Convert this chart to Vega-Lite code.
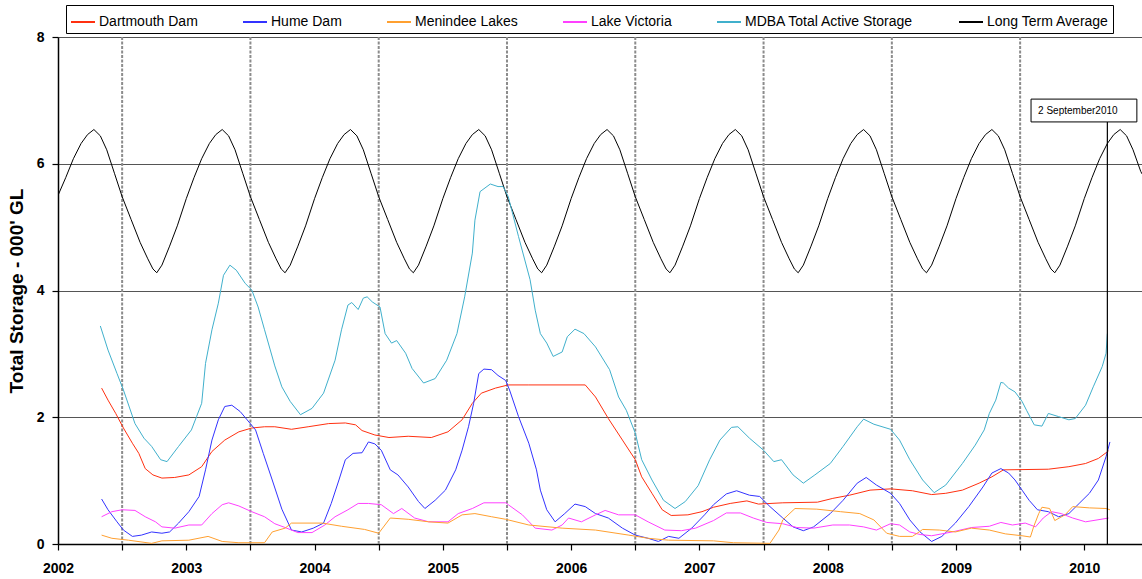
{
 "$schema": "https://vega.github.io/schema/vega-lite/v6.json",
 "width": 1084,
 "height": 507,
 "autosize": {"type": "none"},
 "padding": {"left": 58, "top": 37, "right": 0, "bottom": 35},
 "background": "white",
 "config": {"view": {"stroke": null}, "font": "Liberation Sans"},
 "datasets": {
  "mid": [{"m": 2002.5}, {"m": 2003.5}, {"m": 2004.5}, {"m": 2005.5}, {"m": 2006.5}, {"m": 2007.5}, {"m": 2008.5}, {"m": 2009.5}],
  "series": [
   {"s":"Long Term Average","t":2002.00,"v":5.50},{"s":"Long Term Average","t":2002.06,"v":5.78},{"s":"Long Term Average","t":2002.12,"v":6.08},{"s":"Long Term Average","t":2002.18,"v":6.32},{"s":"Long Term Average","t":2002.23,"v":6.46},{"s":"Long Term Average","t":2002.28,"v":6.54},{"s":"Long Term Average","t":2002.33,"v":6.44},{"s":"Long Term Average","t":2002.38,"v":6.22},{"s":"Long Term Average","t":2002.44,"v":5.85},{"s":"Long Term Average","t":2002.50,"v":5.48},{"s":"Long Term Average","t":2002.57,"v":5.12},{"s":"Long Term Average","t":2002.64,"v":4.76},{"s":"Long Term Average","t":2002.70,"v":4.50},{"s":"Long Term Average","t":2002.74,"v":4.34},{"s":"Long Term Average","t":2002.77,"v":4.28},{"s":"Long Term Average","t":2002.81,"v":4.40},{"s":"Long Term Average","t":2002.87,"v":4.70},{"s":"Long Term Average","t":2002.93,"v":5.02},
   {"s":"Long Term Average","t":2003.00,"v":5.45},{"s":"Long Term Average","t":2003.06,"v":5.78},{"s":"Long Term Average","t":2003.12,"v":6.08},{"s":"Long Term Average","t":2003.18,"v":6.32},{"s":"Long Term Average","t":2003.23,"v":6.46},{"s":"Long Term Average","t":2003.28,"v":6.54},{"s":"Long Term Average","t":2003.33,"v":6.44},{"s":"Long Term Average","t":2003.38,"v":6.22},{"s":"Long Term Average","t":2003.44,"v":5.85},{"s":"Long Term Average","t":2003.50,"v":5.48},{"s":"Long Term Average","t":2003.57,"v":5.12},{"s":"Long Term Average","t":2003.64,"v":4.76},{"s":"Long Term Average","t":2003.70,"v":4.50},{"s":"Long Term Average","t":2003.74,"v":4.34},{"s":"Long Term Average","t":2003.77,"v":4.28},{"s":"Long Term Average","t":2003.81,"v":4.40},{"s":"Long Term Average","t":2003.87,"v":4.70},{"s":"Long Term Average","t":2003.93,"v":5.02},
   {"s":"Long Term Average","t":2004.00,"v":5.45},{"s":"Long Term Average","t":2004.06,"v":5.78},{"s":"Long Term Average","t":2004.12,"v":6.08},{"s":"Long Term Average","t":2004.18,"v":6.32},{"s":"Long Term Average","t":2004.23,"v":6.46},{"s":"Long Term Average","t":2004.28,"v":6.54},{"s":"Long Term Average","t":2004.33,"v":6.44},{"s":"Long Term Average","t":2004.38,"v":6.22},{"s":"Long Term Average","t":2004.44,"v":5.85},{"s":"Long Term Average","t":2004.50,"v":5.48},{"s":"Long Term Average","t":2004.57,"v":5.12},{"s":"Long Term Average","t":2004.64,"v":4.76},{"s":"Long Term Average","t":2004.70,"v":4.50},{"s":"Long Term Average","t":2004.74,"v":4.34},{"s":"Long Term Average","t":2004.77,"v":4.28},{"s":"Long Term Average","t":2004.81,"v":4.40},{"s":"Long Term Average","t":2004.87,"v":4.70},{"s":"Long Term Average","t":2004.93,"v":5.02},
   {"s":"Long Term Average","t":2005.00,"v":5.45},{"s":"Long Term Average","t":2005.06,"v":5.78},{"s":"Long Term Average","t":2005.12,"v":6.08},{"s":"Long Term Average","t":2005.18,"v":6.32},{"s":"Long Term Average","t":2005.23,"v":6.46},{"s":"Long Term Average","t":2005.28,"v":6.54},{"s":"Long Term Average","t":2005.33,"v":6.44},{"s":"Long Term Average","t":2005.38,"v":6.22},{"s":"Long Term Average","t":2005.44,"v":5.85},{"s":"Long Term Average","t":2005.50,"v":5.48},{"s":"Long Term Average","t":2005.57,"v":5.12},{"s":"Long Term Average","t":2005.64,"v":4.76},{"s":"Long Term Average","t":2005.70,"v":4.50},{"s":"Long Term Average","t":2005.74,"v":4.34},{"s":"Long Term Average","t":2005.77,"v":4.28},{"s":"Long Term Average","t":2005.81,"v":4.40},{"s":"Long Term Average","t":2005.87,"v":4.70},{"s":"Long Term Average","t":2005.93,"v":5.02},
   {"s":"Long Term Average","t":2006.00,"v":5.45},{"s":"Long Term Average","t":2006.06,"v":5.78},{"s":"Long Term Average","t":2006.12,"v":6.08},{"s":"Long Term Average","t":2006.18,"v":6.32},{"s":"Long Term Average","t":2006.23,"v":6.46},{"s":"Long Term Average","t":2006.28,"v":6.54},{"s":"Long Term Average","t":2006.33,"v":6.44},{"s":"Long Term Average","t":2006.38,"v":6.22},{"s":"Long Term Average","t":2006.44,"v":5.85},{"s":"Long Term Average","t":2006.50,"v":5.48},{"s":"Long Term Average","t":2006.57,"v":5.12},{"s":"Long Term Average","t":2006.64,"v":4.76},{"s":"Long Term Average","t":2006.70,"v":4.50},{"s":"Long Term Average","t":2006.74,"v":4.34},{"s":"Long Term Average","t":2006.77,"v":4.28},{"s":"Long Term Average","t":2006.81,"v":4.40},{"s":"Long Term Average","t":2006.87,"v":4.70},{"s":"Long Term Average","t":2006.93,"v":5.02},
   {"s":"Long Term Average","t":2007.00,"v":5.45},{"s":"Long Term Average","t":2007.06,"v":5.78},{"s":"Long Term Average","t":2007.12,"v":6.08},{"s":"Long Term Average","t":2007.18,"v":6.32},{"s":"Long Term Average","t":2007.23,"v":6.46},{"s":"Long Term Average","t":2007.28,"v":6.54},{"s":"Long Term Average","t":2007.33,"v":6.44},{"s":"Long Term Average","t":2007.38,"v":6.22},{"s":"Long Term Average","t":2007.44,"v":5.85},{"s":"Long Term Average","t":2007.50,"v":5.48},{"s":"Long Term Average","t":2007.57,"v":5.12},{"s":"Long Term Average","t":2007.64,"v":4.76},{"s":"Long Term Average","t":2007.70,"v":4.50},{"s":"Long Term Average","t":2007.74,"v":4.34},{"s":"Long Term Average","t":2007.77,"v":4.28},{"s":"Long Term Average","t":2007.81,"v":4.40},{"s":"Long Term Average","t":2007.87,"v":4.70},{"s":"Long Term Average","t":2007.93,"v":5.02},
   {"s":"Long Term Average","t":2008.00,"v":5.45},{"s":"Long Term Average","t":2008.06,"v":5.78},{"s":"Long Term Average","t":2008.12,"v":6.08},{"s":"Long Term Average","t":2008.18,"v":6.32},{"s":"Long Term Average","t":2008.23,"v":6.46},{"s":"Long Term Average","t":2008.28,"v":6.54},{"s":"Long Term Average","t":2008.33,"v":6.44},{"s":"Long Term Average","t":2008.38,"v":6.22},{"s":"Long Term Average","t":2008.44,"v":5.85},{"s":"Long Term Average","t":2008.50,"v":5.48},{"s":"Long Term Average","t":2008.57,"v":5.12},{"s":"Long Term Average","t":2008.64,"v":4.76},{"s":"Long Term Average","t":2008.70,"v":4.50},{"s":"Long Term Average","t":2008.74,"v":4.34},{"s":"Long Term Average","t":2008.77,"v":4.28},{"s":"Long Term Average","t":2008.81,"v":4.40},{"s":"Long Term Average","t":2008.87,"v":4.70},{"s":"Long Term Average","t":2008.93,"v":5.02},
   {"s":"Long Term Average","t":2009.00,"v":5.45},{"s":"Long Term Average","t":2009.06,"v":5.78},{"s":"Long Term Average","t":2009.12,"v":6.08},{"s":"Long Term Average","t":2009.18,"v":6.32},{"s":"Long Term Average","t":2009.23,"v":6.46},{"s":"Long Term Average","t":2009.28,"v":6.54},{"s":"Long Term Average","t":2009.33,"v":6.44},{"s":"Long Term Average","t":2009.38,"v":6.22},{"s":"Long Term Average","t":2009.44,"v":5.85},{"s":"Long Term Average","t":2009.50,"v":5.48},{"s":"Long Term Average","t":2009.57,"v":5.12},{"s":"Long Term Average","t":2009.64,"v":4.76},{"s":"Long Term Average","t":2009.70,"v":4.50},{"s":"Long Term Average","t":2009.74,"v":4.34},{"s":"Long Term Average","t":2009.77,"v":4.28},{"s":"Long Term Average","t":2009.81,"v":4.40},{"s":"Long Term Average","t":2009.87,"v":4.70},{"s":"Long Term Average","t":2009.93,"v":5.02},
   {"s":"Long Term Average","t":2010.00,"v":5.45},{"s":"Long Term Average","t":2010.06,"v":5.78},{"s":"Long Term Average","t":2010.12,"v":6.08},{"s":"Long Term Average","t":2010.18,"v":6.32},{"s":"Long Term Average","t":2010.23,"v":6.46},{"s":"Long Term Average","t":2010.28,"v":6.54},{"s":"Long Term Average","t":2010.33,"v":6.44},{"s":"Long Term Average","t":2010.38,"v":6.22},{"s":"Long Term Average","t":2010.44,"v":5.88},{"s":"Long Term Average","t":2010.45,"v":5.84},

   {"s":"MDBA Total Active Storage","t":2002.33,"v":3.44},{"s":"MDBA Total Active Storage","t":2002.39,"v":3.06},{"s":"MDBA Total Active Storage","t":2002.46,"v":2.69},{"s":"MDBA Total Active Storage","t":2002.51,"v":2.43},{"s":"MDBA Total Active Storage","t":2002.60,"v":1.90},{"s":"MDBA Total Active Storage","t":2002.67,"v":1.67},{"s":"MDBA Total Active Storage","t":2002.73,"v":1.54},{"s":"MDBA Total Active Storage","t":2002.80,"v":1.33},{"s":"MDBA Total Active Storage","t":2002.85,"v":1.30},{"s":"MDBA Total Active Storage","t":2002.94,"v":1.54},{"s":"MDBA Total Active Storage","t":2003.04,"v":1.80},{"s":"MDBA Total Active Storage","t":2003.08,"v":2.01},{"s":"MDBA Total Active Storage","t":2003.12,"v":2.22},{"s":"MDBA Total Active Storage","t":2003.15,"v":2.85},{"s":"MDBA Total Active Storage","t":2003.20,"v":3.38},{"s":"MDBA Total Active Storage","t":2003.25,"v":3.80},{"s":"MDBA Total Active Storage","t":2003.29,"v":4.24},{"s":"MDBA Total Active Storage","t":2003.34,"v":4.40},{"s":"MDBA Total Active Storage","t":2003.39,"v":4.32},{"s":"MDBA Total Active Storage","t":2003.46,"v":4.11},{"s":"MDBA Total Active Storage","t":2003.51,"v":4.01},{"s":"MDBA Total Active Storage","t":2003.56,"v":3.74},{"s":"MDBA Total Active Storage","t":2003.61,"v":3.38},{"s":"MDBA Total Active Storage","t":2003.69,"v":2.81},{"s":"MDBA Total Active Storage","t":2003.745,"v":2.48},{"s":"MDBA Total Active Storage","t":2003.81,"v":2.25},{"s":"MDBA Total Active Storage","t":2003.89,"v":2.04},{"s":"MDBA Total Active Storage","t":2003.98,"v":2.14},{"s":"MDBA Total Active Storage","t":2004.07,"v":2.38},{"s":"MDBA Total Active Storage","t":2004.16,"v":2.90},{"s":"MDBA Total Active Storage","t":2004.21,"v":3.38},{"s":"MDBA Total Active Storage","t":2004.26,"v":3.77},{"s":"MDBA Total Active Storage","t":2004.29,"v":3.81},{"s":"MDBA Total Active Storage","t":2004.34,"v":3.70},{"s":"MDBA Total Active Storage","t":2004.38,"v":3.88},{"s":"MDBA Total Active Storage","t":2004.41,"v":3.90},{"s":"MDBA Total Active Storage","t":2004.45,"v":3.82},{"s":"MDBA Total Active Storage","t":2004.51,"v":3.74},{"s":"MDBA Total Active Storage","t":2004.55,"v":3.32},{"s":"MDBA Total Active Storage","t":2004.60,"v":3.17},{"s":"MDBA Total Active Storage","t":2004.64,"v":3.21},{"s":"MDBA Total Active Storage","t":2004.71,"v":3.01},{"s":"MDBA Total Active Storage","t":2004.76,"v":2.77},{"s":"MDBA Total Active Storage","t":2004.85,"v":2.54},{"s":"MDBA Total Active Storage","t":2004.94,"v":2.61},{"s":"MDBA Total Active Storage","t":2005.03,"v":2.90},{"s":"MDBA Total Active Storage","t":2005.11,"v":3.32},{"s":"MDBA Total Active Storage","t":2005.17,"v":3.90},{"s":"MDBA Total Active Storage","t":2005.23,"v":4.59},{"s":"MDBA Total Active Storage","t":2005.25,"v":5.11},{"s":"MDBA Total Active Storage","t":2005.29,"v":5.56},{"s":"MDBA Total Active Storage","t":2005.37,"v":5.68},{"s":"MDBA Total Active Storage","t":2005.43,"v":5.64},{"s":"MDBA Total Active Storage","t":2005.47,"v":5.64},{"s":"MDBA Total Active Storage","t":2005.51,"v":5.48},{"s":"MDBA Total Active Storage","t":2005.59,"v":4.85},{"s":"MDBA Total Active Storage","t":2005.68,"v":4.17},{"s":"MDBA Total Active Storage","t":2005.72,"v":3.69},{"s":"MDBA Total Active Storage","t":2005.76,"v":3.32},{"s":"MDBA Total Active Storage","t":2005.81,"v":3.17},{"s":"MDBA Total Active Storage","t":2005.86,"v":2.96},{"s":"MDBA Total Active Storage","t":2005.93,"v":3.03},{"s":"MDBA Total Active Storage","t":2005.97,"v":3.27},{"s":"MDBA Total Active Storage","t":2006.03,"v":3.39},{"s":"MDBA Total Active Storage","t":2006.10,"v":3.32},{"s":"MDBA Total Active Storage","t":2006.19,"v":3.11},{"s":"MDBA Total Active Storage","t":2006.30,"v":2.75},{"s":"MDBA Total Active Storage","t":2006.37,"v":2.32},{"s":"MDBA Total Active Storage","t":2006.43,"v":2.11},{"s":"MDBA Total Active Storage","t":2006.50,"v":1.75},{"s":"MDBA Total Active Storage","t":2006.55,"v":1.33},{"s":"MDBA Total Active Storage","t":2006.63,"v":1.01},{"s":"MDBA Total Active Storage","t":2006.72,"v":0.69},{"s":"MDBA Total Active Storage","t":2006.81,"v":0.56},{"s":"MDBA Total Active Storage","t":2006.89,"v":0.67},{"s":"MDBA Total Active Storage","t":2006.99,"v":0.92},{"s":"MDBA Total Active Storage","t":2007.08,"v":1.33},{"s":"MDBA Total Active Storage","t":2007.16,"v":1.64},{"s":"MDBA Total Active Storage","t":2007.25,"v":1.84},{"s":"MDBA Total Active Storage","t":2007.30,"v":1.85},{"s":"MDBA Total Active Storage","t":2007.39,"v":1.67},{"s":"MDBA Total Active Storage","t":2007.50,"v":1.48},{"s":"MDBA Total Active Storage","t":2007.58,"v":1.30},{"s":"MDBA Total Active Storage","t":2007.64,"v":1.33},{"s":"MDBA Total Active Storage","t":2007.73,"v":1.09},{"s":"MDBA Total Active Storage","t":2007.81,"v":0.96},{"s":"MDBA Total Active Storage","t":2007.90,"v":1.09},{"s":"MDBA Total Active Storage","t":2008.02,"v":1.27},{"s":"MDBA Total Active Storage","t":2008.12,"v":1.54},{"s":"MDBA Total Active Storage","t":2008.23,"v":1.85},{"s":"MDBA Total Active Storage","t":2008.28,"v":1.97},{"s":"MDBA Total Active Storage","t":2008.36,"v":1.89},{"s":"MDBA Total Active Storage","t":2008.49,"v":1.81},{"s":"MDBA Total Active Storage","t":2008.56,"v":1.64},{"s":"MDBA Total Active Storage","t":2008.64,"v":1.33},{"s":"MDBA Total Active Storage","t":2008.74,"v":1.01},{"s":"MDBA Total Active Storage","t":2008.83,"v":0.81},{"s":"MDBA Total Active Storage","t":2008.92,"v":0.93},{"s":"MDBA Total Active Storage","t":2009.05,"v":1.27},{"s":"MDBA Total Active Storage","t":2009.15,"v":1.56},{"s":"MDBA Total Active Storage","t":2009.22,"v":1.80},{"s":"MDBA Total Active Storage","t":2009.26,"v":2.06},{"s":"MDBA Total Active Storage","t":2009.31,"v":2.27},{"s":"MDBA Total Active Storage","t":2009.35,"v":2.55},{"s":"MDBA Total Active Storage","t":2009.37,"v":2.54},{"s":"MDBA Total Active Storage","t":2009.41,"v":2.46},{"s":"MDBA Total Active Storage","t":2009.46,"v":2.40},{"s":"MDBA Total Active Storage","t":2009.515,"v":2.25},{"s":"MDBA Total Active Storage","t":2009.55,"v":2.11},{"s":"MDBA Total Active Storage","t":2009.61,"v":1.88},{"s":"MDBA Total Active Storage","t":2009.67,"v":1.86},{"s":"MDBA Total Active Storage","t":2009.72,"v":2.06},{"s":"MDBA Total Active Storage","t":2009.80,"v":2.01},{"s":"MDBA Total Active Storage","t":2009.88,"v":1.96},{"s":"MDBA Total Active Storage","t":2009.93,"v":1.98},{"s":"MDBA Total Active Storage","t":2010.01,"v":2.19},{"s":"MDBA Total Active Storage","t":2010.07,"v":2.48},{"s":"MDBA Total Active Storage","t":2010.14,"v":2.80},{"s":"MDBA Total Active Storage","t":2010.17,"v":3.01},{"s":"MDBA Total Active Storage","t":2010.18,"v":3.32},

   {"s":"Dartmouth Dam","t":2002.34,"v":2.46},{"s":"Dartmouth Dam","t":2002.39,"v":2.27},{"s":"Dartmouth Dam","t":2002.45,"v":2.06},{"s":"Dartmouth Dam","t":2002.51,"v":1.83},{"s":"Dartmouth Dam","t":2002.58,"v":1.59},{"s":"Dartmouth Dam","t":2002.63,"v":1.43},{"s":"Dartmouth Dam","t":2002.68,"v":1.19},{"s":"Dartmouth Dam","t":2002.74,"v":1.09},{"s":"Dartmouth Dam","t":2002.81,"v":1.04},{"s":"Dartmouth Dam","t":2002.91,"v":1.05},{"s":"Dartmouth Dam","t":2003.02,"v":1.09},{"s":"Dartmouth Dam","t":2003.12,"v":1.22},{"s":"Dartmouth Dam","t":2003.20,"v":1.46},{"s":"Dartmouth Dam","t":2003.30,"v":1.64},{"s":"Dartmouth Dam","t":2003.41,"v":1.77},{"s":"Dartmouth Dam","t":2003.51,"v":1.83},{"s":"Dartmouth Dam","t":2003.61,"v":1.85},{"s":"Dartmouth Dam","t":2003.69,"v":1.85},{"s":"Dartmouth Dam","t":2003.82,"v":1.81},{"s":"Dartmouth Dam","t":2003.95,"v":1.85},{"s":"Dartmouth Dam","t":2004.11,"v":1.90},{"s":"Dartmouth Dam","t":2004.24,"v":1.91},{"s":"Dartmouth Dam","t":2004.32,"v":1.88},{"s":"Dartmouth Dam","t":2004.37,"v":1.79},{"s":"Dartmouth Dam","t":2004.47,"v":1.72},{"s":"Dartmouth Dam","t":2004.58,"v":1.68},{"s":"Dartmouth Dam","t":2004.73,"v":1.70},{"s":"Dartmouth Dam","t":2004.91,"v":1.68},{"s":"Dartmouth Dam","t":2005.04,"v":1.77},{"s":"Dartmouth Dam","t":2005.15,"v":1.96},{"s":"Dartmouth Dam","t":2005.23,"v":2.22},{"s":"Dartmouth Dam","t":2005.30,"v":2.38},{"s":"Dartmouth Dam","t":2005.41,"v":2.46},{"s":"Dartmouth Dam","t":2005.51,"v":2.51},{"s":"Dartmouth Dam","t":2005.67,"v":2.51},{"s":"Dartmouth Dam","t":2006.11,"v":2.51},{"s":"Dartmouth Dam","t":2006.19,"v":2.32},{"s":"Dartmouth Dam","t":2006.29,"v":1.98},{"s":"Dartmouth Dam","t":2006.40,"v":1.64},{"s":"Dartmouth Dam","t":2006.50,"v":1.33},{"s":"Dartmouth Dam","t":2006.55,"v":1.06},{"s":"Dartmouth Dam","t":2006.63,"v":0.80},{"s":"Dartmouth Dam","t":2006.71,"v":0.54},{"s":"Dartmouth Dam","t":2006.78,"v":0.45},{"s":"Dartmouth Dam","t":2006.91,"v":0.46},{"s":"Dartmouth Dam","t":2007.02,"v":0.51},{"s":"Dartmouth Dam","t":2007.11,"v":0.58},{"s":"Dartmouth Dam","t":2007.24,"v":0.64},{"s":"Dartmouth Dam","t":2007.37,"v":0.68},{"s":"Dartmouth Dam","t":2007.46,"v":0.63},{"s":"Dartmouth Dam","t":2007.65,"v":0.65},{"s":"Dartmouth Dam","t":2007.92,"v":0.66},{"s":"Dartmouth Dam","t":2008.04,"v":0.72},{"s":"Dartmouth Dam","t":2008.17,"v":0.77},{"s":"Dartmouth Dam","t":2008.33,"v":0.85},{"s":"Dartmouth Dam","t":2008.49,"v":0.87},{"s":"Dartmouth Dam","t":2008.66,"v":0.84},{"s":"Dartmouth Dam","t":2008.81,"v":0.78},{"s":"Dartmouth Dam","t":2008.92,"v":0.80},{"s":"Dartmouth Dam","t":2009.05,"v":0.85},{"s":"Dartmouth Dam","t":2009.18,"v":0.96},{"s":"Dartmouth Dam","t":2009.28,"v":1.06},{"s":"Dartmouth Dam","t":2009.37,"v":1.17},{"s":"Dartmouth Dam","t":2009.72,"v":1.18},{"s":"Dartmouth Dam","t":2009.88,"v":1.22},{"s":"Dartmouth Dam","t":2010.01,"v":1.27},{"s":"Dartmouth Dam","t":2010.11,"v":1.35},{"s":"Dartmouth Dam","t":2010.19,"v":1.47},

   {"s":"Hume Dam","t":2002.34,"v":0.71},{"s":"Hume Dam","t":2002.39,"v":0.54},{"s":"Hume Dam","t":2002.46,"v":0.35},{"s":"Hume Dam","t":2002.51,"v":0.22},{"s":"Hume Dam","t":2002.58,"v":0.12},{"s":"Hume Dam","t":2002.65,"v":0.14},{"s":"Hume Dam","t":2002.73,"v":0.19},{"s":"Hume Dam","t":2002.81,"v":0.17},{"s":"Hume Dam","t":2002.87,"v":0.19},{"s":"Hume Dam","t":2002.94,"v":0.33},{"s":"Hume Dam","t":2003.02,"v":0.51},{"s":"Hume Dam","t":2003.10,"v":0.75},{"s":"Hume Dam","t":2003.15,"v":1.17},{"s":"Hume Dam","t":2003.20,"v":1.64},{"s":"Hume Dam","t":2003.25,"v":1.96},{"s":"Hume Dam","t":2003.30,"v":2.17},{"s":"Hume Dam","t":2003.355,"v":2.19},{"s":"Hume Dam","t":2003.42,"v":2.09},{"s":"Hume Dam","t":2003.47,"v":1.97},{"s":"Hume Dam","t":2003.54,"v":1.80},{"s":"Hume Dam","t":2003.60,"v":1.43},{"s":"Hume Dam","t":2003.67,"v":1.01},{"s":"Hume Dam","t":2003.745,"v":0.55},{"s":"Hume Dam","t":2003.82,"v":0.22},{"s":"Hume Dam","t":2003.90,"v":0.19},{"s":"Hume Dam","t":2003.99,"v":0.25},{"s":"Hume Dam","t":2004.07,"v":0.33},{"s":"Hume Dam","t":2004.13,"v":0.64},{"s":"Hume Dam","t":2004.19,"v":1.01},{"s":"Hume Dam","t":2004.24,"v":1.33},{"s":"Hume Dam","t":2004.30,"v":1.43},{"s":"Hume Dam","t":2004.37,"v":1.44},{"s":"Hume Dam","t":2004.42,"v":1.61},{"s":"Hume Dam","t":2004.47,"v":1.58},{"s":"Hume Dam","t":2004.52,"v":1.48},{"s":"Hume Dam","t":2004.59,"v":1.17},{"s":"Hume Dam","t":2004.65,"v":1.09},{"s":"Hume Dam","t":2004.73,"v":0.90},{"s":"Hume Dam","t":2004.81,"v":0.67},{"s":"Hume Dam","t":2004.86,"v":0.56},{"s":"Hume Dam","t":2004.94,"v":0.69},{"s":"Hume Dam","t":2005.02,"v":0.85},{"s":"Hume Dam","t":2005.10,"v":1.17},{"s":"Hume Dam","t":2005.15,"v":1.48},{"s":"Hume Dam","t":2005.20,"v":1.85},{"s":"Hume Dam","t":2005.24,"v":2.22},{"s":"Hume Dam","t":2005.28,"v":2.69},{"s":"Hume Dam","t":2005.32,"v":2.76},{"s":"Hume Dam","t":2005.38,"v":2.75},{"s":"Hume Dam","t":2005.43,"v":2.66},{"s":"Hume Dam","t":2005.49,"v":2.58},{"s":"Hume Dam","t":2005.52,"v":2.43},{"s":"Hume Dam","t":2005.59,"v":2.01},{"s":"Hume Dam","t":2005.67,"v":1.59},{"s":"Hume Dam","t":2005.73,"v":1.17},{"s":"Hume Dam","t":2005.76,"v":0.85},{"s":"Hume Dam","t":2005.81,"v":0.54},{"s":"Hume Dam","t":2005.875,"v":0.35},{"s":"Hume Dam","t":2005.95,"v":0.48},{"s":"Hume Dam","t":2006.03,"v":0.63},{"s":"Hume Dam","t":2006.11,"v":0.59},{"s":"Hume Dam","t":2006.19,"v":0.48},{"s":"Hume Dam","t":2006.29,"v":0.41},{"s":"Hume Dam","t":2006.40,"v":0.25},{"s":"Hume Dam","t":2006.50,"v":0.14},{"s":"Hume Dam","t":2006.60,"v":0.09},{"s":"Hume Dam","t":2006.68,"v":0.04},{"s":"Hume Dam","t":2006.76,"v":0.12},{"s":"Hume Dam","t":2006.84,"v":0.09},{"s":"Hume Dam","t":2006.94,"v":0.25},{"s":"Hume Dam","t":2007.04,"v":0.46},{"s":"Hume Dam","t":2007.11,"v":0.62},{"s":"Hume Dam","t":2007.21,"v":0.79},{"s":"Hume Dam","t":2007.29,"v":0.84},{"s":"Hume Dam","t":2007.39,"v":0.77},{"s":"Hume Dam","t":2007.47,"v":0.75},{"s":"Hume Dam","t":2007.55,"v":0.59},{"s":"Hume Dam","t":2007.65,"v":0.41},{"s":"Hume Dam","t":2007.73,"v":0.27},{"s":"Hume Dam","t":2007.81,"v":0.21},{"s":"Hume Dam","t":2007.89,"v":0.27},{"s":"Hume Dam","t":2008.02,"v":0.48},{"s":"Hume Dam","t":2008.12,"v":0.69},{"s":"Hume Dam","t":2008.23,"v":0.96},{"s":"Hume Dam","t":2008.30,"v":1.05},{"s":"Hume Dam","t":2008.38,"v":0.93},{"s":"Hume Dam","t":2008.49,"v":0.80},{"s":"Hume Dam","t":2008.56,"v":0.64},{"s":"Hume Dam","t":2008.64,"v":0.38},{"s":"Hume Dam","t":2008.72,"v":0.19},{"s":"Hume Dam","t":2008.81,"v":0.04},{"s":"Hume Dam","t":2008.89,"v":0.12},{"s":"Hume Dam","t":2008.995,"v":0.33},{"s":"Hume Dam","t":2009.10,"v":0.59},{"s":"Hume Dam","t":2009.21,"v":0.90},{"s":"Hume Dam","t":2009.28,"v":1.12},{"s":"Hume Dam","t":2009.35,"v":1.19},{"s":"Hume Dam","t":2009.41,"v":1.12},{"s":"Hume Dam","t":2009.46,"v":1.01},{"s":"Hume Dam","t":2009.515,"v":0.85},{"s":"Hume Dam","t":2009.57,"v":0.69},{"s":"Hume Dam","t":2009.635,"v":0.54},{"s":"Hume Dam","t":2009.72,"v":0.51},{"s":"Hume Dam","t":2009.80,"v":0.43},{"s":"Hume Dam","t":2009.88,"v":0.48},{"s":"Hume Dam","t":2009.96,"v":0.64},{"s":"Hume Dam","t":2010.04,"v":0.80},{"s":"Hume Dam","t":2010.11,"v":1.01},{"s":"Hume Dam","t":2010.17,"v":1.38},{"s":"Hume Dam","t":2010.20,"v":1.61},

   {"s":"Lake Victoria","t":2002.34,"v":0.43},{"s":"Lake Victoria","t":2002.42,"v":0.51},{"s":"Lake Victoria","t":2002.50,"v":0.54},{"s":"Lake Victoria","t":2002.60,"v":0.53},{"s":"Lake Victoria","t":2002.68,"v":0.43},{"s":"Lake Victoria","t":2002.76,"v":0.35},{"s":"Lake Victoria","t":2002.81,"v":0.27},{"s":"Lake Victoria","t":2002.91,"v":0.25},{"s":"Lake Victoria","t":2003.02,"v":0.30},{"s":"Lake Victoria","t":2003.12,"v":0.30},{"s":"Lake Victoria","t":2003.20,"v":0.48},{"s":"Lake Victoria","t":2003.28,"v":0.62},{"s":"Lake Victoria","t":2003.33,"v":0.65},{"s":"Lake Victoria","t":2003.41,"v":0.60},{"s":"Lake Victoria","t":2003.51,"v":0.51},{"s":"Lake Victoria","t":2003.61,"v":0.43},{"s":"Lake Victoria","t":2003.69,"v":0.32},{"s":"Lake Victoria","t":2003.77,"v":0.26},{"s":"Lake Victoria","t":2003.87,"v":0.18},{"s":"Lake Victoria","t":2003.98,"v":0.18},{"s":"Lake Victoria","t":2004.08,"v":0.30},{"s":"Lake Victoria","t":2004.16,"v":0.43},{"s":"Lake Victoria","t":2004.26,"v":0.54},{"s":"Lake Victoria","t":2004.34,"v":0.64},{"s":"Lake Victoria","t":2004.42,"v":0.64},{"s":"Lake Victoria","t":2004.52,"v":0.62},{"s":"Lake Victoria","t":2004.615,"v":0.48},{"s":"Lake Victoria","t":2004.68,"v":0.56},{"s":"Lake Victoria","t":2004.78,"v":0.41},{"s":"Lake Victoria","t":2004.89,"v":0.35},{"s":"Lake Victoria","t":2005.04,"v":0.35},{"s":"Lake Victoria","t":2005.12,"v":0.48},{"s":"Lake Victoria","t":2005.23,"v":0.56},{"s":"Lake Victoria","t":2005.32,"v":0.65},{"s":"Lake Victoria","t":2005.49,"v":0.65},{"s":"Lake Victoria","t":2005.51,"v":0.62},{"s":"Lake Victoria","t":2005.62,"v":0.46},{"s":"Lake Victoria","t":2005.72,"v":0.25},{"s":"Lake Victoria","t":2005.85,"v":0.22},{"s":"Lake Victoria","t":2005.93,"v":0.30},{"s":"Lake Victoria","t":2005.98,"v":0.41},{"s":"Lake Victoria","t":2006.08,"v":0.35},{"s":"Lake Victoria","t":2006.19,"v":0.46},{"s":"Lake Victoria","t":2006.265,"v":0.53},{"s":"Lake Victoria","t":2006.37,"v":0.46},{"s":"Lake Victoria","t":2006.50,"v":0.46},{"s":"Lake Victoria","t":2006.60,"v":0.35},{"s":"Lake Victoria","t":2006.73,"v":0.22},{"s":"Lake Victoria","t":2006.86,"v":0.21},{"s":"Lake Victoria","t":2006.97,"v":0.25},{"s":"Lake Victoria","t":2007.11,"v":0.37},{"s":"Lake Victoria","t":2007.21,"v":0.49},{"s":"Lake Victoria","t":2007.32,"v":0.49},{"s":"Lake Victoria","t":2007.42,"v":0.41},{"s":"Lake Victoria","t":2007.525,"v":0.34},{"s":"Lake Victoria","t":2007.65,"v":0.32},{"s":"Lake Victoria","t":2007.76,"v":0.26},{"s":"Lake Victoria","t":2007.89,"v":0.25},{"s":"Lake Victoria","t":2008.04,"v":0.30},{"s":"Lake Victoria","t":2008.17,"v":0.30},{"s":"Lake Victoria","t":2008.28,"v":0.27},{"s":"Lake Victoria","t":2008.38,"v":0.22},{"s":"Lake Victoria","t":2008.49,"v":0.32},{"s":"Lake Victoria","t":2008.56,"v":0.30},{"s":"Lake Victoria","t":2008.64,"v":0.19},{"s":"Lake Victoria","t":2008.72,"v":0.15},{"s":"Lake Victoria","t":2008.81,"v":0.13},{"s":"Lake Victoria","t":2008.97,"v":0.19},{"s":"Lake Victoria","t":2009.12,"v":0.26},{"s":"Lake Victoria","t":2009.26,"v":0.28},{"s":"Lake Victoria","t":2009.35,"v":0.34},{"s":"Lake Victoria","t":2009.44,"v":0.30},{"s":"Lake Victoria","t":2009.54,"v":0.33},{"s":"Lake Victoria","t":2009.62,"v":0.27},{"s":"Lake Victoria","t":2009.68,"v":0.41},{"s":"Lake Victoria","t":2009.745,"v":0.51},{"s":"Lake Victoria","t":2009.82,"v":0.48},{"s":"Lake Victoria","t":2009.91,"v":0.41},{"s":"Lake Victoria","t":2010.01,"v":0.35},{"s":"Lake Victoria","t":2010.19,"v":0.41},

   {"s":"Menindee Lakes","t":2002.34,"v":0.14},{"s":"Menindee Lakes","t":2002.42,"v":0.09},{"s":"Menindee Lakes","t":2002.55,"v":0.06},{"s":"Menindee Lakes","t":2002.73,"v":0.01},{"s":"Menindee Lakes","t":2002.81,"v":0.05},{"s":"Menindee Lakes","t":2003.02,"v":0.06},{"s":"Menindee Lakes","t":2003.17,"v":0.12},{"s":"Menindee Lakes","t":2003.28,"v":0.04},{"s":"Menindee Lakes","t":2003.41,"v":0.02},{"s":"Menindee Lakes","t":2003.61,"v":0.02},{"s":"Menindee Lakes","t":2003.67,"v":0.19},{"s":"Menindee Lakes","t":2003.77,"v":0.25},{"s":"Menindee Lakes","t":2003.82,"v":0.33},{"s":"Menindee Lakes","t":2004.06,"v":0.33},{"s":"Menindee Lakes","t":2004.21,"v":0.28},{"s":"Menindee Lakes","t":2004.39,"v":0.23},{"s":"Menindee Lakes","t":2004.50,"v":0.17},{"s":"Menindee Lakes","t":2004.59,"v":0.41},{"s":"Menindee Lakes","t":2004.73,"v":0.39},{"s":"Menindee Lakes","t":2004.89,"v":0.35},{"s":"Menindee Lakes","t":2005.04,"v":0.33},{"s":"Menindee Lakes","t":2005.15,"v":0.46},{"s":"Menindee Lakes","t":2005.25,"v":0.48},{"s":"Menindee Lakes","t":2005.38,"v":0.43},{"s":"Menindee Lakes","t":2005.49,"v":0.39},{"s":"Menindee Lakes","t":2005.67,"v":0.30},{"s":"Menindee Lakes","t":2005.93,"v":0.25},{"s":"Menindee Lakes","t":2006.19,"v":0.22},{"s":"Menindee Lakes","t":2006.45,"v":0.14},{"s":"Menindee Lakes","t":2006.60,"v":0.09},{"s":"Menindee Lakes","t":2006.76,"v":0.06},{"s":"Menindee Lakes","t":2007.11,"v":0.05},{"s":"Menindee Lakes","t":2007.265,"v":0.02},{"s":"Menindee Lakes","t":2007.55,"v":0.01},{"s":"Menindee Lakes","t":2007.62,"v":0.22},{"s":"Menindee Lakes","t":2007.65,"v":0.38},{"s":"Menindee Lakes","t":2007.745,"v":0.56},{"s":"Menindee Lakes","t":2007.915,"v":0.55},{"s":"Menindee Lakes","t":2008.10,"v":0.51},{"s":"Menindee Lakes","t":2008.25,"v":0.48},{"s":"Menindee Lakes","t":2008.36,"v":0.38},{"s":"Menindee Lakes","t":2008.46,"v":0.17},{"s":"Menindee Lakes","t":2008.56,"v":0.12},{"s":"Menindee Lakes","t":2008.66,"v":0.12},{"s":"Menindee Lakes","t":2008.72,"v":0.20},{"s":"Menindee Lakes","t":2008.74,"v":0.23},{"s":"Menindee Lakes","t":2008.87,"v":0.22},{"s":"Menindee Lakes","t":2008.995,"v":0.19},{"s":"Menindee Lakes","t":2009.12,"v":0.25},{"s":"Menindee Lakes","t":2009.26,"v":0.22},{"s":"Menindee Lakes","t":2009.385,"v":0.16},{"s":"Menindee Lakes","t":2009.515,"v":0.13},{"s":"Menindee Lakes","t":2009.58,"v":0.11},{"s":"Menindee Lakes","t":2009.605,"v":0.27},{"s":"Menindee Lakes","t":2009.645,"v":0.48},{"s":"Menindee Lakes","t":2009.67,"v":0.58},{"s":"Menindee Lakes","t":2009.73,"v":0.56},{"s":"Menindee Lakes","t":2009.77,"v":0.37},{"s":"Menindee Lakes","t":2009.85,"v":0.46},{"s":"Menindee Lakes","t":2009.91,"v":0.59},{"s":"Menindee Lakes","t":2010.04,"v":0.57},{"s":"Menindee Lakes","t":2010.17,"v":0.56},{"s":"Menindee Lakes","t":2010.20,"v":0.54}
  ],
  "marker": [{"rx": 2010.18, "r0": 0, "r1": 6.66}],
  "box": [{"x1": 2009.585, "x2": 2010.41, "y1": 6.66, "y2": 7.02}],
  "note": [{"tx": 2009.64, "ty": 6.84, "label": "2 September2010"}]
 },
 "layer": [
  {
   "data": {"name": "mid"},
   "mark": {"type": "rule", "stroke": "#8c8c8c", "strokeWidth": 2, "strokeDash": [3, 1.5]},
   "encoding": {
    "x": {"field": "m", "type": "quantitative", "title": null}
   }
  },
  {
   "data": {"name": "series"},
   "mark": {"type": "line", "strokeWidth": 1, "clip": true},
   "encoding": {
    "x": {
     "field": "t", "type": "quantitative", "title": null,
     "scale": {"domain": [2002, 2010.45], "nice": false, "zero": false},
     "axis": {
      "title": null,
      "values": [2002, 2002.25, 2002.5, 2002.75, 2003, 2003.25, 2003.5, 2003.75, 2004, 2004.25, 2004.5, 2004.75, 2005, 2005.25, 2005.5, 2005.75, 2006, 2006.25, 2006.5, 2006.75, 2007, 2007.25, 2007.5, 2007.75, 2008, 2008.25, 2008.5, 2008.75, 2009, 2009.25, 2009.5, 2009.75, 2010, 2010.25],
      "labelExpr": "datum.value % 1 == 0 ? format(datum.value, 'd') : ''",
      "grid": false,
      "domainColor": "black", "domainWidth": 1.5,
      "tickColor": "black", "tickSize": 6, "tickWidth": 1.2,
      "labelFont": "Liberation Sans", "labelFontSize": 14, "labelFontWeight": "bold", "labelColor": "black",
      "labelPadding": 11, "labelFlush": false, "labelOverlap": false
     }
    },
    "y": {
     "field": "v", "type": "quantitative", "title": "Total Storage - 000' GL",
     "scale": {"domain": [0, 8], "nice": false},
     "axis": {
      "title": "Total Storage - 000' GL",
      "titleFont": "Liberation Sans", "titleFontSize": 19, "titleFontWeight": "bold", "titleColor": "black", "titlePadding": 10,
      "values": [0, 2, 4, 6, 8],
      "format": "d",
      "grid": true, "gridColor": "#555555", "gridWidth": 1.2,
      "domainColor": "black", "domainWidth": 1.5,
      "tickColor": "black", "tickSize": 6, "tickWidth": 1.2,
      "labelFont": "Liberation Sans", "labelFontSize": 14, "labelFontWeight": "bold", "labelColor": "black",
      "labelPadding": 8
     }
    },
    "color": {
     "field": "s", "type": "nominal",
     "scale": {
      "domain": ["Dartmouth Dam", "Hume Dam", "Menindee Lakes", "Lake Victoria", "MDBA Total Active Storage", "Long Term Average"],
      "range": ["#FF3010", "#3333FF", "#FFA030", "#FF40FF", "#40B0CC", "#000000"]
     },
     "legend": {
      "title": null, "orient": "none", "legendX": 8, "legendY": -32,
      "direction": "horizontal", "columns": 6,
      "symbolType": "stroke", "symbolSize": 576, "symbolStrokeWidth": 2,
      "labelFont": "Liberation Sans", "labelFontSize": 14, "labelColor": "black", "labelOffset": 3, "labelLimit": 0,
      "columnPadding": 41, "padding": 4,
      "fillColor": "white", "strokeColor": "black"
     }
    }
   }
  },
  {
   "data": {"name": "marker"},
   "mark": {"type": "rule", "stroke": "black", "strokeWidth": 1.2},
   "encoding": {
    "x": {"field": "rx", "type": "quantitative", "title": null},
    "y": {"field": "r0", "type": "quantitative", "title": "Total Storage - 000' GL"},
    "y2": {"field": "r1"}
   }
  },
  {
   "data": {"name": "box"},
   "mark": {"type": "rect", "fill": "white", "stroke": "black", "strokeWidth": 1},
   "encoding": {
    "x": {"field": "x1", "type": "quantitative", "title": null},
    "x2": {"field": "x2"},
    "y": {"field": "y1", "type": "quantitative", "title": "Total Storage - 000' GL"},
    "y2": {"field": "y2"}
   }
  },
  {
   "data": {"name": "note"},
   "mark": {"type": "text", "align": "left", "baseline": "middle", "fontSize": 10, "font": "Liberation Sans", "color": "black"},
   "encoding": {
    "x": {"field": "tx", "type": "quantitative", "title": null},
    "y": {"field": "ty", "type": "quantitative", "title": "Total Storage - 000' GL"},
    "text": {"field": "label"}
   }
  }
 ]
}
